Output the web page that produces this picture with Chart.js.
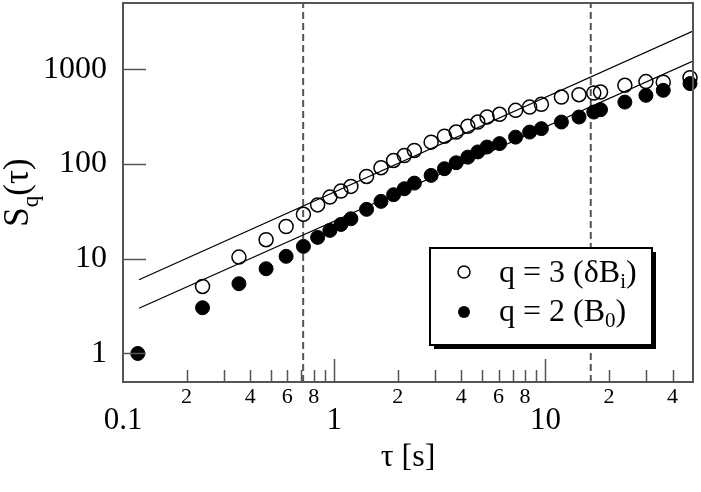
<!DOCTYPE html>
<html>
<head>
<meta charset="utf-8">
<script src="https://cdn.jsdelivr.net/npm/chart.js@4.4.1/dist/chart.umd.min.js"></script>
<style>
  body { margin: 0; background: #fff; }
  #wrap { width: 701px; height: 492px; }
</style>
</head>
<body>
<div id="wrap"><canvas id="sq"></canvas></div>
<script>
// time lags tau [s]
const tau = [0.1175, 0.238, 0.354, 0.476, 0.592, 0.715, 0.835, 0.954, 1.076, 1.20,
  1.423, 1.666, 1.911, 2.149, 2.397, 2.877, 3.327, 3.781, 4.293, 4.787,
  5.293, 6.069, 7.228, 8.424, 9.573, 11.91, 14.43, 16.95, 18.24, 23.79,
  29.93, 36.15, 48.4];
// q = 3 (dB_i), open circles
const sqOpen = [null, 5.10, 10.4, 15.9, 21.9, 29.4, 37.0, 44.7, 51.7, 58.0,
  73.9, 91.4, 109, 123, 139, 170, 196, 217, 250, 277,
  313, 334, 368, 399, 426, 508, 539, 561, 574, 676,
  740, 730, 815];
// q = 2 (B0), filled circles
const sqFilled = [1.0, 3.04, 5.45, 7.84, 10.6, 13.5, 16.8, 19.9, 23.0, 26.4,
  33.2, 40.3, 47.4, 54.8, 62.8, 75.8, 89.2, 103, 118, 134,
  151, 164, 192, 217, 236, 277, 313, 353, 374, 450,
  530, 599, 705];
// straight guide lines (log-log)
const fitTau = [0.119, 50];
const fitUpper = [6.0, 2530];
const fitLower = [3.0, 1220];
// dashed vertical markers
const markTau = [0.713, 16.4];

const xRange = [0.1, 50];
const yRange = [0.5, 5000];
const yTicks = [1, 10, 100, 1000];
const xLabelled = [2, 4, 6, 8];

const SERIF = "'Liberation Serif', 'Times New Roman', serif";
Chart.defaults.font.family = SERIF;
Chart.defaults.color = '#000';

const isMajor = v => Math.abs(Math.log10(v) - Math.round(Math.log10(v))) < 1e-6;
const pts = (xs, ys) => xs.map((t, i) => ({x: t, y: ys[i]})).filter(p => p.y != null);
const noPad = s => { s.paddingTop = 0; s.paddingBottom = 0; s.paddingLeft = 0; s.paddingRight = 0; };

// draw a run of text pieces (for subscripts)
function drawRich(ctx, parts, x, y, align) {
  let total = 0;
  parts.forEach(p => { ctx.font = p.size + 'px ' + SERIF; total += ctx.measureText(p.t).width; });
  let cx = align === 'center' ? x - total / 2 : x;
  parts.forEach(p => {
    ctx.font = p.size + 'px ' + SERIF;
    ctx.fillText(p.t, cx, y + (p.dy || 0));
    cx += ctx.measureText(p.t).width;
  });
}

const frame = {
  id: 'frame',
  afterDatasetsDraw(chart) {
    const {ctx, chartArea: a, scales: {x, y}} = chart;
    ctx.save();
    ctx.strokeStyle = '#555';
    ctx.lineWidth = 2;
    ctx.strokeRect(a.left, a.top, a.right - a.left, a.bottom - a.top);
    ctx.lineWidth = 1.5;
    ctx.beginPath();
    x.ticks.forEach(t => {
      if (t.value <= x.min || t.value >= x.max) return;
      const px = Math.round(x.getPixelForValue(t.value)) + 0.5;
      ctx.moveTo(px, a.bottom);
      ctx.lineTo(px, a.bottom - (isMajor(t.value) ? 23 : 12));
    });
    y.ticks.forEach(t => {
      const py = Math.round(y.getPixelForValue(t.value)) + 0.5;
      ctx.moveTo(a.left, py);
      ctx.lineTo(a.left + 23, py);
    });
    ctx.stroke();

    // y axis title S_q(tau)
    ctx.fillStyle = '#000';
    ctx.textBaseline = 'alphabetic';
    ctx.save();
    ctx.translate(28, (a.top + a.bottom) / 2);
    ctx.rotate(-Math.PI / 2);
    drawRich(ctx, [{t: 'S', size: 35}, {t: 'q', size: 23, dy: 10}, {t: '(τ)', size: 35}], 0, 0, 'center');
    ctx.restore();

    // legend box with shadow
    const bx = 430, by = 248, bw = 222, bh = 97;
    ctx.fillStyle = '#000';
    ctx.fillRect(bx + 4, by + 4, bw, bh);
    ctx.fillStyle = '#fff';
    ctx.fillRect(bx, by, bw, bh);
    ctx.strokeStyle = '#000';
    ctx.lineWidth = 2;
    ctx.strokeRect(bx, by, bw, bh);

    ctx.lineWidth = 1.5;
    ctx.beginPath();
    ctx.arc(464, 272, 6, 0, Math.PI * 2);
    ctx.stroke();
    ctx.fillStyle = '#000';
    ctx.beginPath();
    ctx.arc(464, 312, 6, 0, Math.PI * 2);
    ctx.fill();

    drawRich(ctx, [{t: 'q = 3 (δB', size: 32}, {t: 'i', size: 21, dy: 6}, {t: ')', size: 32}], 499, 282, 'left');
    drawRich(ctx, [{t: 'q = 2 (B', size: 32}, {t: '0', size: 21, dy: 6}, {t: ')', size: 32}], 499, 321, 'left');
    ctx.restore();
  }
};

new Chart(document.getElementById('sq'), {
  type: 'scatter',
  data: {
    datasets: [
      {
        label: 'q = 3',
        data: pts(tau, sqOpen),
        pointRadius: 7,
        pointBorderWidth: 1.5,
        pointBorderColor: '#000',
        pointBackgroundColor: 'rgba(0,0,0,0)',
        clip: false
      },
      {
        label: 'q = 2',
        data: pts(tau, sqFilled),
        pointRadius: 7,
        pointBorderWidth: 1,
        pointBorderColor: '#000',
        pointBackgroundColor: '#000',
        clip: false
      },
      {
        type: 'line',
        data: pts(fitTau, fitUpper),
        borderColor: '#000',
        borderWidth: 1.3,
        pointRadius: 0
      },
      {
        type: 'line',
        data: pts(fitTau, fitLower),
        borderColor: '#000',
        borderWidth: 1.3,
        pointRadius: 0
      },
      ...markTau.map(t => ({
        type: 'line',
        data: pts([t, t], yRange),
        borderColor: '#555',
        borderWidth: 2,
        borderDash: [7, 4],
        pointRadius: 0
      }))
    ]
  },
  options: {
    responsive: true,
    maintainAspectRatio: false,
    animation: false,
    layout: { autoPadding: false, padding: { left: 0, right: 8, top: 3, bottom: 0 } },
    plugins: { legend: { display: false }, tooltip: { enabled: false } },
    scales: {
      x: {
        type: 'logarithmic',
        min: xRange[0],
        max: xRange[1],
        grid: { display: false, drawTicks: false },
        border: { display: false },
        afterBuildTicks(scale) {
          const vals = [];
          [0.1, 1, 10].forEach(d => {
            for (let m = 1; m <= 9; m++) {
              const v = +(d * m).toPrecision(3);
              if (v <= xRange[1]) vals.push(v);
            }
          });
          scale.ticks = vals.map(v => ({value: v}));
        },
        afterFit(scale) {
          scale.height = 110;
          noPad(scale);
        },
        ticks: {
          autoSkip: false,
          maxRotation: 0,
          padding: 2,
          font: c => (c.tick && isMajor(c.tick.value)) ? {size: 31, lineHeight: 0.8} : {size: 22, lineHeight: 1.2},
          callback(v) {
            if (isMajor(v)) return ['', String(v)];
            const m = Math.round(v / Math.pow(10, Math.floor(Math.log10(v) + 1e-9)));
            return xLabelled.includes(m) && v < 45 ? String(m) : '';
          }
        },
        title: {
          display: true,
          text: 'τ [s]',
          font: { size: 32 },
          padding: { top: 0, bottom: 15 }
        }
      },
      y: {
        type: 'logarithmic',
        min: yRange[0],
        max: yRange[1],
        grid: { display: false, drawTicks: false },
        border: { display: false },
        afterBuildTicks(scale) { scale.ticks = yTicks.map(v => ({value: v})); },
        afterFit(scale) {
          scale.width = 123;
          noPad(scale);
        },
        ticks: {
          padding: 16,
          font: { size: 32 },
          callback: v => String(v)
        }
      }
    }
  },
  plugins: [frame]
});
</script>
</body>
</html>
